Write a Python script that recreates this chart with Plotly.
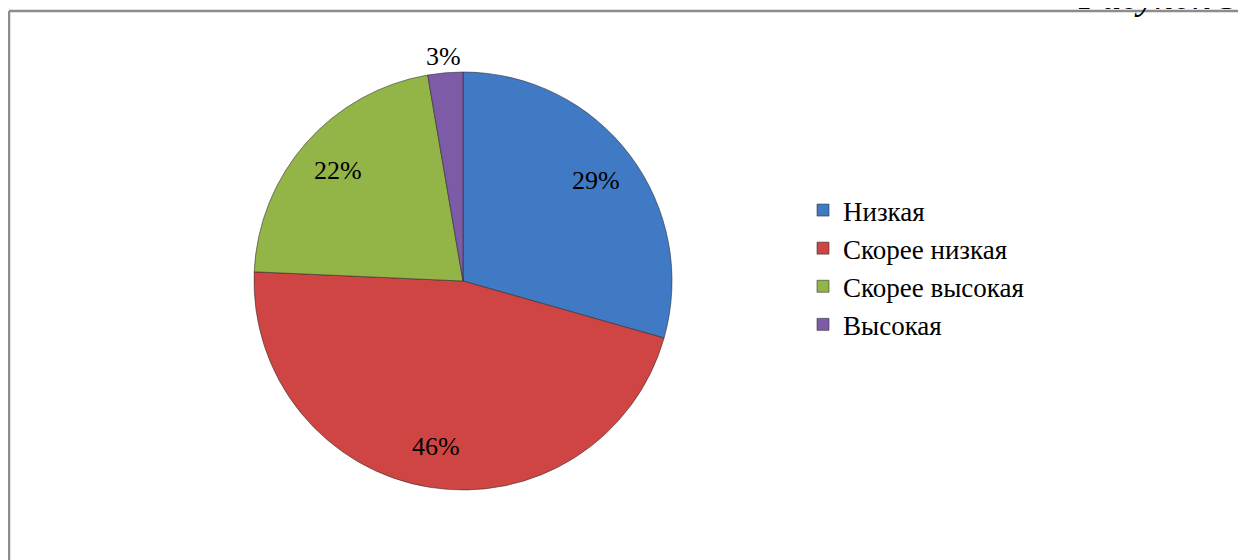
import math
import plotly.graph_objects as go

categories = ["Низкая", "Скорее низкая", "Скорее высокая", "Высокая"]
shares = [29.4, 46.3, 21.6, 2.7]
colors = ["#4079c4", "#cf4543", "#93b548", "#7d5ba6"]
label_outside = [False, False, False, True]
figure_caption = "Рисунок 37"

# page body has an 8px margin, so the figure is drawn 8px in from the window corner
W, H = 1238, 552
cx, cy, R = 455, 273, 209
FONT = "Liberation Serif"

fig = go.Figure(go.Pie(
    labels=categories,
    values=shares,
    sort=False,
    direction="clockwise",
    rotation=0,
    marker=dict(colors=colors, line=dict(color="rgba(40,40,40,0.55)", width=1)),
    textinfo="none",
    hoverinfo="label+percent",
    domain=dict(x=[(cx - R) / W, (cx + R) / W], y=[(H - cy - R) / H, (H - cy + R) / H]),
))

# percentage labels placed at the middle angle of each slice
annotations = []
total = sum(shares)
cum = 0.0
for v, outside in zip(shares, label_outside):
    mid = (cum + v / 2) / total * 2 * math.pi
    cum += v
    rl = R * (1.08 if outside else 0.80)
    xp = cx + rl * math.sin(mid)
    yp = cy - rl * math.cos(mid)
    annotations.append(dict(
        text=f"{round(v / total * 100)}%", xref="paper", yref="paper",
        x=xp / W, y=1 - yp / H, xanchor="center", yanchor="middle", showarrow=False,
        font=dict(family=FONT, size=26, color="black"),
    ))

annotations.append(dict(
    text="<i>" + figure_caption + "</i>", xref="paper", yref="paper",
    x=1068 / W, y=1 + 12 / H, xanchor="left", yanchor="middle", showarrow=False,
    font=dict(family=FONT, size=38, color="black"),
))

fig.update_layout(
    width=W, height=H,
    margin=dict(l=0, r=0, t=0, b=0),
    paper_bgcolor="white",
    plot_bgcolor="white",
    showlegend=True,
    legend=dict(
        x=795 / W, y=(H - 178) / H, xanchor="left", yanchor="top",
        font=dict(family=FONT, size=27, color="black"),
        bgcolor="rgba(0,0,0,0)",
    ),
    shapes=[
        dict(type="line", xref="paper", yref="paper", x0=1 / W, x1=1.0, y0=(H - 3) / H, y1=(H - 3) / H,
             line=dict(color="#8c8c8c", width=2.5)),
        dict(type="line", xref="paper", yref="paper", x0=1 / W, x1=1 / W, y0=0, y1=(H - 3) / H,
             line=dict(color="#8c8c8c", width=2.5)),
    ],
    annotations=annotations,
)

fig.write_html("out.html")
